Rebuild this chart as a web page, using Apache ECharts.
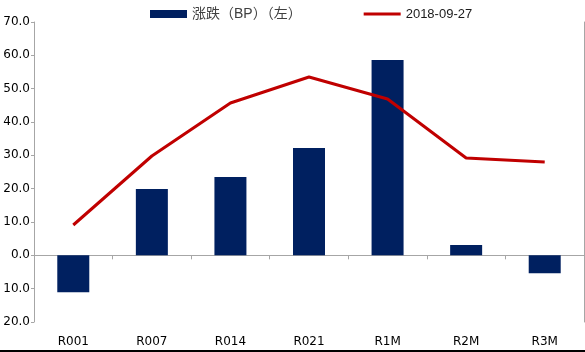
<!DOCTYPE html>
<html><head><meta charset="utf-8">
<script src="https://cdn.jsdelivr.net/npm/echarts@6/dist/echarts.min.js"></script>
<style>html,body{margin:0;padding:0;background:#fff;}#c{width:585px;height:350px;}#b{width:585px;height:2px;background:#000;}</style>
</head><body><div id="c"></div><div id="b"></div>
<script>
var categories = ['R001','R007','R014','R021','R1M','R2M','R3M'];
var changeBP = [-11.1, 19.9, 23.5, 32.2, 58.6, 3.1, -5.4];
var rate0927 = [9.1, 29.8, 45.7, 53.5, 46.9, 29.2, 28.0];
var barName = '涨跌（BP）（左）';
var lineName = '2018-09-27';

var chart = echarts.init(document.getElementById('c'), null, {renderer:'canvas'});
var axisColor = '#A6A6A6';
var axFont = '"DejaVu Sans", sans-serif';
var lgFont = '"Liberation Sans", "Noto Sans CJK SC", sans-serif';
chart.setOption({
  animation: false,
  legend: {
    top: 2, left: 145, itemGap: 62, itemWidth: 37, itemHeight: 8,
    textStyle: {color: '#404040', fontSize: 13, fontFamily: lgFont},
    data: [
      {name: barName, icon: 'rect', textStyle: {fontSize: 14, color: '#404040'}},
      {name: lineName, icon: 'path://M0,0 L40,0 L40,3 L0,3 Z', itemStyle: {color: '#C00000'},
       textStyle: {fontSize: 13, color: '#1a1a1a'}}
    ]
  },
  grid: {left: 34, right: 1, top: 22, bottom: 28, containLabel: false},
  xAxis: [{
    type: 'category', data: categories, position: 'bottom',
    axisLine: {show: true, onZero: true, lineStyle: {color: axisColor, width: 1}},
    axisTick: {show: true, length: 4, alignWithLabel: false, lineStyle: {color: axisColor}},
    axisLabel: {show: false}
  }, {
    type: 'category', data: categories, position: 'bottom',
    axisLine: {show: false}, axisTick: {show: false},
    axisLabel: {color: '#000', fontSize: 12, margin: 14, fontFamily: axFont}
  }],
  yAxis: [{
    type: 'value', min: -20, max: 70, interval: 10, position: 'left',
    axisLine: {show: true, lineStyle: {color: axisColor}},
    axisTick: {show: true, length: 3, lineStyle: {color: axisColor}},
    splitLine: {show: false},
    axisLabel: {color: '#000', fontSize: 12, margin: 4, fontFamily: axFont,
      formatter: function(v){ return Math.abs(v).toFixed(1); }}
  }, {
    type: 'value', min: -20, max: 70, interval: 10, position: 'right',
    axisLine: {show: true, lineStyle: {color: axisColor}},
    axisTick: {show: false}, axisLabel: {show: false}, splitLine: {show: false}
  }],
  series: [{
    name: barName, type: 'bar', data: changeBP, xAxisIndex: 0, yAxisIndex: 0,
    barWidth: 32, itemStyle: {color: '#002060'}
  }, {
    name: lineName, type: 'line', data: rate0927, xAxisIndex: 0, yAxisIndex: 0,
    symbol: 'none', lineStyle: {color: '#C00000', width: 3}, itemStyle: {color: '#C00000'}
  }]
});
</script></body></html>
